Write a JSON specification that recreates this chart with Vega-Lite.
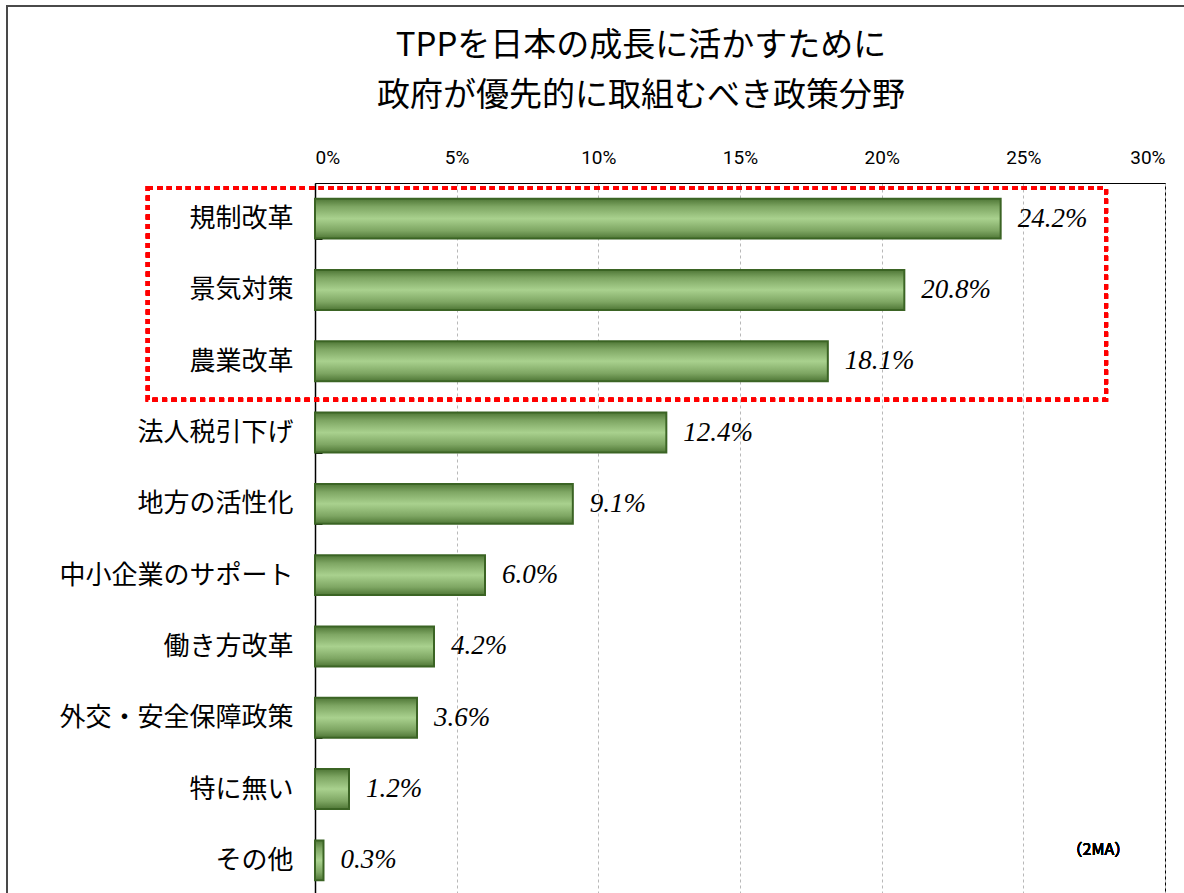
{
  "$schema": "https://vega.github.io/schema/vega-lite/v6.json",
  "autosize": {"type": "none"},
  "padding": {"left": 315, "top": 183, "right": 19, "bottom": 0},
  "width": 850,
  "height": 713,
  "background": "white",
  "title": {
    "text": ["TPPを日本の成長に活かすために", "政府が優先的に取組むべき政策分野"],
    "font": "Noto Sans CJK JP",
    "fontSize": 33,
    "fontWeight": "normal",
    "color": "#000000",
    "lineHeight": 50,
    "anchor": "middle",
    "frame": "group",
    "dx": -99,
    "offset": -108
  },
  "data": {
    "values": [
      {"item": "規制改革", "share": 0.242},
      {"item": "景気対策", "share": 0.208},
      {"item": "農業改革", "share": 0.181},
      {"item": "法人税引下げ", "share": 0.124},
      {"item": "地方の活性化", "share": 0.091},
      {"item": "中小企業のサポート", "share": 0.060},
      {"item": "働き方改革", "share": 0.042},
      {"item": "外交・安全保障政策", "share": 0.036},
      {"item": "特に無い", "share": 0.012},
      {"item": "その他", "share": 0.003}
    ]
  },
  "encoding": {
    "x": {
      "field": "share",
      "type": "quantitative",
      "scale": {"domain": [0, 0.3], "nice": false, "zero": true},
      "axis": {
        "orient": "top",
        "format": "%",
        "values": [0, 0.05, 0.1, 0.15, 0.2, 0.25, 0.3],
        "title": null,
        "labelFont": "Roboto",
        "labelFontSize": 19,
        "labelColor": "#000000",
        "labelPadding": 16,
        "ticks": false,
        "domainColor": "#000000",
        "domainWidth": 1,
        "grid": true,
        "gridColor": "#b8b8b8",
        "gridDash": [3, 3],
        "gridWidth": 1
      }
    }
  },
  "layer": [
    {
      "mark": {
        "type": "bar",
        "fill": {
          "gradient": "linear",
          "x1": 0, "y1": 0, "x2": 0, "y2": 1,
          "stops": [
            {"offset": 0, "color": "#4f7736"},
            {"offset": 0.2, "color": "#7ea663"},
            {"offset": 0.5, "color": "#a9d18e"},
            {"offset": 0.8, "color": "#7ea663"},
            {"offset": 1, "color": "#4f7736"}
          ]
        },
        "stroke": "#3b6424",
        "strokeWidth": 2
      },
      "encoding": {
        "y": {
          "field": "item",
          "type": "nominal",
          "sort": null,
          "scale": {"paddingInner": 0.44, "paddingOuter": 0.22},
          "axis": {
            "title": null,
            "labelFont": "Noto Sans CJK JP",
            "labelFontSize": 26,
            "labelLimit": 0,
            "labelColor": "#000000",
            "labelPadding": 29,
            "tickBand": "extent",
            "tickSize": -7,
            "tickColor": "#000000",
            "tickWidth": 1,
            "domainColor": "#000000",
            "domainWidth": 1.5
          }
        }
      }
    },
    {
      "mark": {
        "type": "text",
        "align": "left",
        "baseline": "middle",
        "dx": 17,
        "font": "Liberation Serif",
        "fontStyle": "italic",
        "fontSize": 27,
        "color": "#000000"
      },
      "encoding": {
        "y": {
          "field": "item",
          "type": "nominal",
          "sort": null,
          "scale": {"paddingInner": 0.44, "paddingOuter": 0.22},
          "axis": null
        },
        "text": {"field": "share", "type": "quantitative", "format": ".1%"}
      }
    },
    {
      "mark": {
        "type": "rect",
        "fill": null,
        "fillOpacity": 0,
        "stroke": "#ff0000",
        "strokeWidth": 4,
        "strokeDash": [5, 4.5]
      },
      "encoding": {
        "x": {"datum": -0.059, "type": "quantitative"},
        "x2": {"datum": 0.2792},
        "y": {"datum": 0.07, "type": "quantitative", "scale": {"domain": [0, 10], "reverse": true, "nice": false, "zero": false}, "axis": null},
        "y2": {"datum": 3.04}
      }
    },
    {
      "mark": {
        "type": "rect",
        "fill": null,
        "fillOpacity": 0,
        "stroke": "#4a4a4a",
        "strokeWidth": 1.5
      },
      "encoding": {
        "x": {"datum": -0.1087, "type": "quantitative"},
        "x2": {"datum": 0.36},
        "y": {"datum": -2.48, "type": "quantitative", "scale": {"domain": [0, 10], "reverse": true, "nice": false, "zero": false}, "axis": null},
        "y2": {"datum": 11}
      }
    },
    {
      "mark": {
        "type": "text",
        "align": "center",
        "baseline": "middle",
        "font": "Noto Sans CJK JP",
        "fontWeight": "normal",
        "fontSize": 16,
        "color": "#000000"
      },
      "encoding": {
        "x": {"datum": 0.2765, "type": "quantitative"},
        "y": {"datum": 9.35, "type": "quantitative", "scale": {"domain": [0, 10], "reverse": true, "nice": false, "zero": false}, "axis": null},
        "text": {"value": "（2MA）"}
      }
    }
  ],
  "resolve": {"scale": {"y": "independent"}},
  "config": {
    "view": {"stroke": "#000000", "strokeWidth": 1}
  }
}
